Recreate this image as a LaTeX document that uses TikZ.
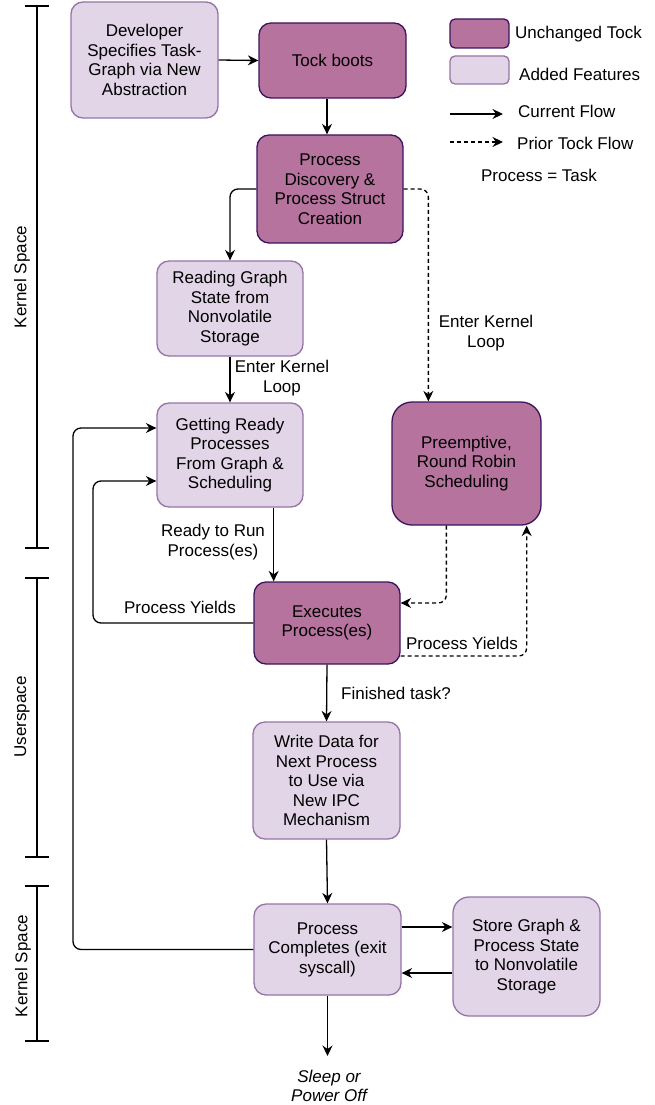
\documentclass[tikz,border=0pt]{standalone}
\usepackage{fontspec}
\setmainfont{Liberation Sans}
\usetikzlibrary{arrows.meta,calc}
\definecolor{darkfill}{HTML}{B5739D}
\definecolor{darkline}{HTML}{3C1361}
\definecolor{lightfill}{HTML}{E1D5E7}
\definecolor{lightline}{HTML}{9673A6}
\begin{document}
\begin{tikzpicture}[x=1pt,y=-1pt,
 font=\fontsize{17}{19.5}\selectfont,
 box/.style={draw, line width=1.3pt, rounded corners=12pt, align=center, inner sep=0pt, anchor=center},
 tockbox/.style={box, fill=darkfill, draw=darkline},
 addedbox/.style={box, fill=lightfill, draw=lightline},
 arr/.style={line width=1.3pt, -{Stealth[length=10.5pt,width=10pt,inset=3.5pt]}},
 darr/.style={arr, dash pattern=on 4pt off 3pt},
 lbl/.style={align=center, inner sep=0pt},
 brk/.style={line width=2.6pt},
]
\useasboundingbox (0,0) rectangle (655,1105);

% brackets
\draw[brk] (37,6) -- (37,548);
\draw[brk] (25,6) -- (49,6);
\draw[brk] (25,548) -- (49,548);
\node[lbl, rotate=90] (ks1) at (22,277) {Kernel Space};
\draw[brk] (37,578) -- (37,857);
\draw[brk] (25,578) -- (49,578);
\draw[brk] (25,857) -- (49,857);
\node[lbl, rotate=90] (us) at (22,717) {Userspace};
\draw[brk] (37,886) -- (37,1041);
\draw[brk] (25,886) -- (49,886);
\draw[brk] (25,1041) -- (49,1041);
\node[lbl, rotate=90] (ks2) at (23,966) {Kernel Space};

% boxes
\node[addedbox, minimum width=147pt, minimum height=116pt] (dev) at (144.5,60) {Developer\\Specifies Task-\\Graph via New\\Abstraction};
\node[tockbox, minimum width=147pt, minimum height=75pt] (tock) at (332.5,60.5) {Tock boots};
\node[tockbox, minimum width=146pt, minimum height=108pt] (pd) at (330,189) {Process\\Discovery \&\\Process Struct\\Creation};
\node[addedbox, minimum width=146pt, minimum height=95pt] (rg) at (230,308.5) {Reading Graph\\State from\\Nonvolatile\\Storage};
\node[addedbox, minimum width=146pt, minimum height=104pt] (gr) at (230,455) {Getting Ready\\Processes\\From Graph \&\\Scheduling};
\node[tockbox, minimum width=149pt, minimum height=123pt, rounded corners=20pt] (pre) at (466.5,463.5) {Preemptive,\\Round Robin\\Scheduling};
\node[tockbox, minimum width=146pt, minimum height=82pt] (ex) at (327,623) {Executes\\Process(es)};
\node[addedbox, minimum width=147pt, minimum height=117pt] (wd) at (326.5,780.5) {Write Data for\\Next Process\\to Use via\\New IPC\\Mechanism};
\node[addedbox, minimum width=147pt, minimum height=91pt] (pc) at (327.5,949.5) {Process\\Completes (exit\\syscall)};
\node[addedbox, minimum width=147pt, minimum height=119pt, rounded corners=16pt] (sg) at (526.5,956.5) {Store Graph \&\\Process State\\to Nonvolatile\\Storage};

% legend
\node[tockbox, minimum width=59pt, minimum height=29pt, rounded corners=5pt] (lg1) at (479.5,33.5) {};
\node[lbl, anchor=west] (lt1) at (515,34) {Unchanged Tock};
\node[addedbox, minimum width=59pt, minimum height=28pt, rounded corners=5pt] (lg2) at (479.5,70) {};
\node[lbl, anchor=west] (lt2) at (519,74) {Added Features};
\coordinate (la1) at (450,114);
\coordinate (lb1) at (503,114);
\draw[arr] (la1) -- (lb1);
\node[lbl, anchor=west] (lt3) at (518,111) {Current Flow};
\coordinate (la2) at (450,142);
\coordinate (lb2) at (503,142);
\draw[darr] (la2) -- (lb2);
\node[lbl, anchor=west] (lt4) at (517,143) {Prior Tock Flow};
\node[lbl] (lt5) at (539,175) {Process = Task};

% connectors
\draw[arr] (dev.east) -- (tock.west);
\coordinate (t1) at ([xshift=-5.5pt]tock.south);
\draw[arr] (t1) -- (t1 |- pd.north);
\draw[arr, rounded corners=8pt] (pd.west) -| (rg.north);
\coordinate (pn) at ([xshift=37pt]pre.north west);
\draw[darr, rounded corners=8pt] (pd.east) -| (pn);
\draw[arr] (rg.south) -- (gr.north);
\node[lbl] (ekl1) at (282,378) {Enter Kernel\\Loop};
\node[lbl] (ekl2) at (486,333) {Enter Kernel\\Loop};
\coordinate (g1) at ([xshift=-30pt]gr.south east);
\draw[arr] (g1) -- (g1 |- ex.north);
\node[lbl] (rtr) at (213,542) {Ready to Run\\Process(es)};

\coordinate (y1) at (93,481);
\coordinate (y1e) at ($(gr.west)+(0,26)$);
\draw[arr, rounded corners=8pt] (ex.west) -| (y1) -- (y1e);
\node[lbl] (py1) at (180,607) {Process Yields};

\coordinate (y2) at (73,428);
\coordinate (y2e) at ($(gr.west)+(0,-27)$);
\draw[arr, rounded corners=8pt] (pc.west) -| (y2) -- (y2e);

\draw[arr] (ex.south) -- (wd.north);
\node[lbl] (ft) at (396,693) {Finished task?};
\draw[arr] (wd.south) -- (pc.north);

\coordinate (p1) at ($(pc.east)+(0,-22.5)$);
\draw[arr] (p1) -- (p1 -| sg.west);
\coordinate (p2) at ($(sg.west)+(0,16.5)$);
\draw[arr] (p2) -- (p2 -| pc.east);

\coordinate (sleep) at (327.5,1056);
\draw[arr] (pc.south) -- (sleep);
\node[lbl, font=\fontsize{17}{19.5}\selectfont\itshape] (sl) at (329,1086) {Sleep or\\Power Off};

\coordinate (d1) at ([xshift=55pt]pre.south west);
\coordinate (d1e) at ($(ex.east)+(0,-20)$);
\draw[darr, rounded corners=8pt] (d1) |- (d1e);
\coordinate (d2) at ($(ex.east)+(0,33)$);
\coordinate (d2e) at ([xshift=-15pt]pre.south east);
\draw[darr, rounded corners=8pt] (d2) -| (d2e);
\node[lbl] (py2) at (462,643) {Process Yields};
\end{tikzpicture}
\end{document}
